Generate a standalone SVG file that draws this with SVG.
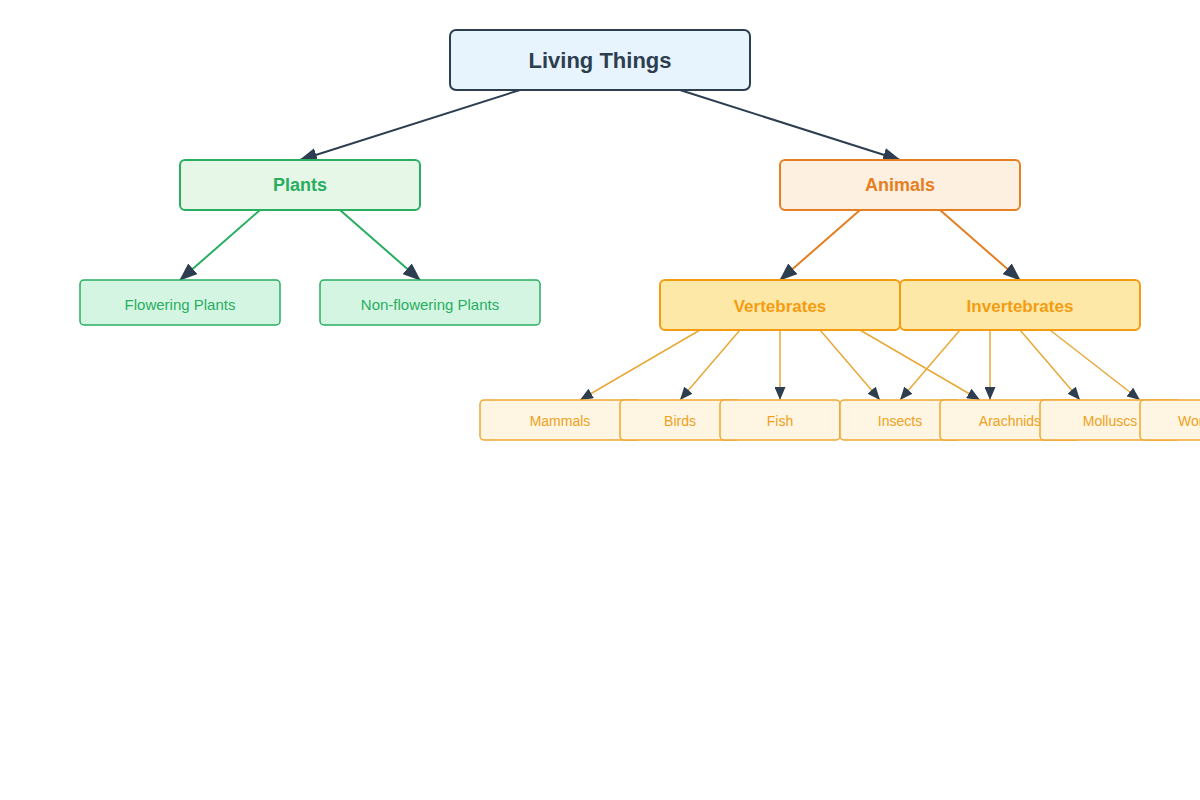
<svg xmlns="http://www.w3.org/2000/svg" width="1200" height="800" viewBox="0 0 1200 800">
<style>
text{font-family:"Liberation Sans",Arial,sans-serif;text-anchor:middle;dominant-baseline:central}
.root rect{fill:#e8f4fd;stroke:#2c3e50;stroke-width:2}
.root text{fill:#2c3e50;font-size:22px;font-weight:bold}
.plant1 rect{fill:#e6f7e8;stroke:#27ae60;stroke-width:2}
.plant1 text{fill:#27ae60;font-size:18px;font-weight:bold}
.plant2 rect{fill:#d5f5e3;stroke:#27ae60;stroke-width:1.5}
.plant2 text{fill:#27ae60;font-size:15px}
.anim1 rect{fill:#fef0e0;stroke:#e67e22;stroke-width:2}
.anim1 text{fill:#e67e22;font-size:18px;font-weight:bold}
.anim2 rect{fill:#fee8a8;stroke:#f39c12;stroke-width:2}
.anim2 text{fill:#f39c12;font-size:17px;font-weight:bold}
.anim3 rect{fill:#fef6e2;stroke:#f0a830;stroke-width:1.5}
.anim3 text{fill:#f0a020;font-size:14px}
.c-dark{stroke:#2c3e50;stroke-width:2;fill:none}
.c-green{stroke:#27ae60;stroke-width:2;fill:none}
.c-orange{stroke:#e67e22;stroke-width:2;fill:none}
.c-light{stroke:#eaa838;stroke-width:1.5;fill:none}
</style>
<defs>
<marker id="ah" markerUnits="userSpaceOnUse" markerWidth="18" markerHeight="14" refX="17" refY="7" orient="auto">
<path d="M0,0 L18,7 L0,14 Z" fill="#2c3e50"/>
</marker>
<marker id="ahs" markerUnits="userSpaceOnUse" markerWidth="13" markerHeight="11" refX="13" refY="5.5" orient="auto">
<path d="M0,0 L13,5.5 L0,11 Z" fill="#2c3e50"/>
</marker>
</defs>
<rect width="1200" height="800" fill="#ffffff"/>
<g id="connectors">
<line class="c-dark" x1="520" y1="90" x2="300" y2="160" marker-end="url(#ah)"/>
<line class="c-dark" x1="680" y1="90" x2="900" y2="160" marker-end="url(#ah)"/>
<line class="c-green" x1="260" y1="210" x2="180" y2="280" marker-end="url(#ah)"/>
<line class="c-green" x1="340" y1="210" x2="420" y2="280" marker-end="url(#ah)"/>
<line class="c-orange" x1="860" y1="210" x2="780" y2="280" marker-end="url(#ah)"/>
<line class="c-orange" x1="940" y1="210" x2="1020" y2="280" marker-end="url(#ah)"/>
<line class="c-light" x1="700" y1="330" x2="580" y2="400" marker-end="url(#ahs)"/>
<line class="c-light" x1="740" y1="330" x2="680" y2="400" marker-end="url(#ahs)"/>
<line class="c-light" x1="780" y1="330" x2="780" y2="400" marker-end="url(#ahs)"/>
<line class="c-light" x1="820" y1="330" x2="880" y2="400" marker-end="url(#ahs)"/>
<line class="c-light" x1="860" y1="330" x2="980" y2="400" marker-end="url(#ahs)"/>
<line class="c-light" x1="960" y1="330" x2="900" y2="400" marker-end="url(#ahs)"/>
<line class="c-light" x1="990" y1="330" x2="990" y2="400" marker-end="url(#ahs)"/>
<line class="c-light" x1="1020" y1="330" x2="1080" y2="400" marker-end="url(#ahs)"/>
<line class="c-light" x1="1050" y1="330" x2="1140" y2="400" marker-end="url(#ahs)"/>
</g>
<g id="living-things" class="root"><rect x="450" y="30" width="300" height="60" rx="6"/><text x="600" y="60">Living Things</text></g>
<g id="plants" class="plant1"><rect x="180" y="160" width="240" height="50" rx="5"/><text x="300" y="185">Plants</text></g>
<g id="animals" class="anim1"><rect x="780" y="160" width="240" height="50" rx="5"/><text x="900" y="185">Animals</text></g>
<g id="flowering-plants" class="plant2"><rect x="80" y="280" width="200" height="45" rx="4"/><text x="180" y="304">Flowering Plants</text></g>
<g id="non-flowering-plants" class="plant2"><rect x="320" y="280" width="220" height="45" rx="4"/><text x="430" y="304">Non-flowering Plants</text></g>
<g id="vertebrates" class="anim2"><rect x="660" y="280" width="240" height="50" rx="5"/><text x="780" y="306">Vertebrates</text></g>
<g id="invertebrates" class="anim2"><rect x="900" y="280" width="240" height="50" rx="5"/><text x="1020" y="306">Invertebrates</text></g>
<g id="mammals" class="anim3"><rect x="480" y="400" width="160" height="40" rx="4"/><text x="560" y="421">Mammals</text></g>
<g id="birds" class="anim3"><rect x="620" y="400" width="120" height="40" rx="4"/><text x="680" y="421">Birds</text></g>
<g id="fish" class="anim3"><rect x="720" y="400" width="120" height="40" rx="4"/><text x="780" y="421">Fish</text></g>
<g id="insects" class="anim3"><rect x="840" y="400" width="120" height="40" rx="4"/><text x="900" y="421">Insects</text></g>
<g id="arachnids" class="anim3"><rect x="940" y="400" width="140" height="40" rx="4"/><text x="1010" y="421">Arachnids</text></g>
<g id="molluscs" class="anim3"><rect x="1040" y="400" width="140" height="40" rx="4"/><text x="1110" y="421">Molluscs</text></g>
<g id="worms" class="anim3"><rect x="1140" y="400" width="120" height="40" rx="4"/><text x="1200" y="421">Worms</text></g>
</svg>
